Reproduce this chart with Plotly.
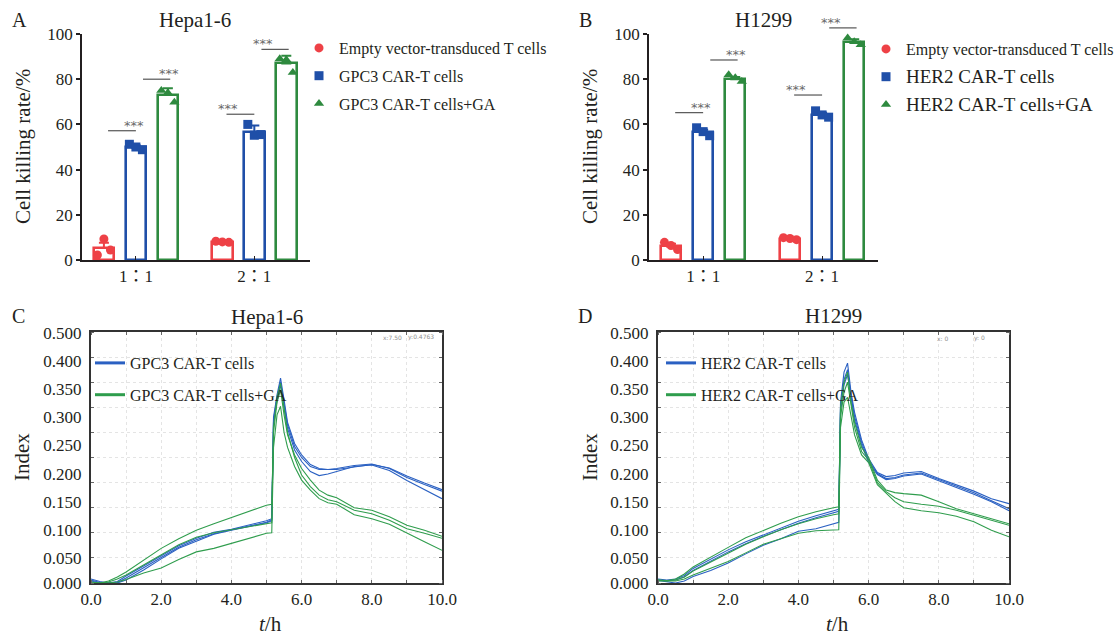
import plotly.graph_objects as go

W, H = 1116, 636
FONT = "Liberation Serif"
INK = "#231f20"
RED, BLUE, GREEN = "#ee4146", "#1f4fa8", "#2e8a3f"
LBLUE, LGREEN = "#2a60c2", "#2f9d4d"

# ---------------- Panels A / B: bar data ----------------
CATS = ["1：1", "2：1"]
A_NAMES = ["Empty vector-transduced T cells", "GPC3 CAR-T cells", "GPC3 CAR-T cells+GA"]
B_NAMES = ["Empty vector-transduced T cells", "HER2 CAR-T cells", "HER2 CAR-T cells+GA"]

A_empty_mean = [5.3, 8.0]
A_gpc3_mean = [49.8, 56.6]
A_ga_mean = [73.0, 87.0]
A_empty_err = [2.3, 0.3]
A_gpc3_err = [0.9, 2.9]
A_ga_err = [3.0, 3.4]
A_empty_pts = [[2.2, 9.3, 4.4], [8.3, 8.0, 7.8]]
A_gpc3_pts = [[51.2, 50.0, 48.8], [60.0, 55.2, 55.5]]
A_ga_pts = [[75.0, 74.0, 69.8], [89.0, 88.6, 83.0]]
A_sig = [[57.2, 80.0], [64.5, 93.2]]

B_empty_mean = [6.0, 9.3]
B_her2_mean = [56.6, 64.2]
B_ga_mean = [80.0, 96.5]
B_empty_err = [1.2, 0.4]
B_her2_err = [1.0, 1.0]
B_ga_err = [1.0, 1.2]
B_empty_pts = [[7.8, 6.4, 4.6], [9.9, 9.5, 9.0]]
B_her2_pts = [[58.5, 56.8, 55.0], [66.0, 64.2, 63.2]]
B_ga_pts = [[82.0, 80.6, 79.0], [98.2, 96.6, 95.2]]
B_sig = [[65.2, 88.5], [73.0, 102.7]]

# ---------------- Panels C / D: real-time index curves ----------------
T = [0, 0.25, 0.5, 0.75, 1.0, 1.5, 2.0, 2.5, 3.0, 3.5, 4.0, 4.5, 5.0, 5.15, 5.2,
     5.3, 5.4, 5.5, 5.6, 5.8, 6.0, 6.25, 6.5, 6.75, 7.0, 7.5, 8.0, 8.5, 9.0, 9.5, 10.0]

C_blue_1 = [0.008, 0.003, 0.000, 0.003, 0.014, 0.034, 0.054, 0.074, 0.089, 0.101, 0.107, 0.115, 0.124, 0.128, 0.330,
            0.375, 0.408, 0.365, 0.320, 0.278, 0.255, 0.236, 0.228, 0.226, 0.226, 0.231, 0.236, 0.229, 0.213, 0.199, 0.186]
C_blue_2 = [0.006, 0.001, 0.000, 0.001, 0.010, 0.030, 0.050, 0.071, 0.086, 0.098, 0.106, 0.113, 0.121, 0.126, 0.325,
            0.370, 0.400, 0.358, 0.315, 0.272, 0.250, 0.232, 0.226, 0.226, 0.228, 0.234, 0.237, 0.228, 0.210, 0.196, 0.183]
C_blue_3 = [0.004, 0.000, 0.000, 0.000, 0.006, 0.026, 0.048, 0.069, 0.083, 0.097, 0.105, 0.112, 0.120, 0.124, 0.320,
            0.362, 0.395, 0.350, 0.308, 0.265, 0.242, 0.222, 0.214, 0.217, 0.222, 0.232, 0.235, 0.224, 0.204, 0.186, 0.168]
C_green_1 = [0.000, 0.000, 0.004, 0.012, 0.022, 0.046, 0.069, 0.088, 0.105, 0.118, 0.130, 0.142, 0.155, 0.157, 0.300,
             0.360, 0.385, 0.335, 0.295, 0.255, 0.228, 0.205, 0.185, 0.175, 0.170, 0.150, 0.145, 0.132, 0.115, 0.105, 0.093]
C_green_2 = [0.002, 0.000, 0.002, 0.008, 0.016, 0.036, 0.056, 0.076, 0.091, 0.100, 0.106, 0.112, 0.118, 0.120, 0.310,
             0.370, 0.398, 0.345, 0.300, 0.250, 0.215, 0.192, 0.175, 0.166, 0.162, 0.145, 0.138, 0.125, 0.108, 0.099, 0.089]
C_green_3 = [0.000, 0.000, 0.000, 0.002, 0.007, 0.020, 0.030, 0.047, 0.062, 0.069, 0.079, 0.090, 0.099, 0.100, 0.270,
             0.335, 0.352, 0.300, 0.270, 0.232, 0.205, 0.185, 0.168, 0.160, 0.157, 0.136, 0.128, 0.117, 0.099, 0.082, 0.065]

D_blue_1 = [0.008, 0.006, 0.008, 0.015, 0.029, 0.048, 0.066, 0.082, 0.096, 0.110, 0.123, 0.134, 0.144, 0.147, 0.360,
            0.420, 0.438, 0.380, 0.340, 0.285, 0.248, 0.220, 0.212, 0.214, 0.219, 0.222, 0.208, 0.196, 0.183, 0.168, 0.158]
D_blue_2 = [0.006, 0.004, 0.006, 0.012, 0.025, 0.044, 0.062, 0.078, 0.093, 0.106, 0.119, 0.130, 0.140, 0.143, 0.350,
            0.405, 0.425, 0.372, 0.332, 0.280, 0.244, 0.218, 0.208, 0.210, 0.215, 0.219, 0.206, 0.193, 0.180, 0.164, 0.148]
D_blue_3 = [0.005, 0.002, 0.000, 0.004, 0.013, 0.025, 0.040, 0.058, 0.075, 0.088, 0.103, 0.108, 0.118, 0.121, 0.340,
            0.395, 0.415, 0.365, 0.325, 0.275, 0.240, 0.216, 0.206, 0.208, 0.213, 0.217, 0.204, 0.190, 0.177, 0.162, 0.144]
D_green_1 = [0.004, 0.004, 0.008, 0.018, 0.032, 0.052, 0.071, 0.090, 0.105, 0.119, 0.132, 0.142, 0.150, 0.152, 0.350,
             0.400, 0.420, 0.360, 0.320, 0.270, 0.250, 0.205, 0.185, 0.180, 0.178, 0.175, 0.162, 0.148, 0.138, 0.128, 0.118]
D_green_2 = [0.006, 0.005, 0.006, 0.012, 0.024, 0.042, 0.060, 0.077, 0.092, 0.106, 0.118, 0.128, 0.136, 0.138, 0.330,
             0.380, 0.400, 0.350, 0.310, 0.262, 0.245, 0.200, 0.182, 0.170, 0.162, 0.157, 0.153, 0.145, 0.135, 0.125, 0.115]
D_green_3 = [0.006, 0.004, 0.004, 0.008, 0.016, 0.030, 0.043, 0.060, 0.077, 0.088, 0.099, 0.104, 0.106, 0.106, 0.310,
             0.360, 0.370, 0.330, 0.295, 0.255, 0.240, 0.196, 0.180, 0.162, 0.150, 0.144, 0.140, 0.133, 0.122, 0.105, 0.092]

C_NAMES = ["GPC3 CAR-T cells", "GPC3 CAR-T cells+GA"]
D_NAMES = ["HER2 CAR-T cells", "HER2 CAR-T cells+GA"]

# y tick labels of C/D as printed in the source figure (label text and where each sits on the grid scale)
YLAB_TEXT = ["0.000", "0.050", "0.100", "0.150", "0.200", "0.250", "0.300", "0.350", "0.400", "0.500"]
YLAB_POS = [0.0, 0.0505, 0.106, 0.162, 0.218, 0.274, 0.330, 0.386, 0.442, 0.498]
XTICKS = [0, 2, 4, 6, 8, 10]

# ---------------- style / layout constants ----------------
RNG_AB = [-0.455, 1.47]
OFFS = [-0.27, 0.0, 0.27]
BAR_W = 0.172
JIT = [-0.055, 0.0, 0.055]
SIG_SPAN = [(-0.235, 0.0), (0.06, 0.29)]
SYMS = ["circle", "square", "triangle-up"]
COLS = [RED, BLUE, GREEN]

fig = go.Figure()


def px(x):
    return x / W


def py(y):
    return 1 - y / H


def add_bars(xa, ya, leg, names, means, errs, pts, name_style=None):
    for k in range(3):
        xs = [i + OFFS[k] for i in range(len(CATS))]
        fig.add_trace(go.Bar(
            x=xs, y=means[k], width=BAR_W, xaxis=xa, yaxis=ya, showlegend=False,
            marker=dict(color="white", line=dict(color=COLS[k], width=2.6)),
            error_y=dict(type="data", array=errs[k], arrayminus=[0] * len(CATS), symmetric=False,
                         color=COLS[k], thickness=2, width=5),
            hoverinfo="skip"))
    for k in range(3):
        xs, ys = [], []
        for i in range(len(CATS)):
            for j, v in enumerate(pts[k][i]):
                xs.append(i + OFFS[k] + JIT[j])
                ys.append(v)
        nm = names[k]
        if name_style is not None and name_style[k]:
            nm = '<span style="font-size:%dpx">%s</span>' % (name_style[k], nm)
        fig.add_trace(go.Scatter(
            x=xs, y=ys, mode="markers", xaxis=xa, yaxis=ya, cliponaxis=False,
            marker=dict(symbol=SYMS[k], size=9, color=COLS[k], line=dict(width=0)),
            name=nm, legend=leg, legendgroup=leg + str(k)))


add_bars("x", "y", "legend", A_NAMES,
         [A_empty_mean, A_gpc3_mean, A_ga_mean], [A_empty_err, A_gpc3_err, A_ga_err],
         [A_empty_pts, A_gpc3_pts, A_ga_pts])
add_bars("x2", "y2", "legend2", B_NAMES,
         [B_empty_mean, B_her2_mean, B_ga_mean], [B_empty_err, B_her2_err, B_ga_err],
         [B_empty_pts, B_her2_pts, B_ga_pts], name_style=[None, 19, 19])

shapes, anns = [], []


def add_sig(xa, ya, sig):
    for i in range(len(CATS)):
        for s, (a, b) in enumerate(SIG_SPAN):
            x0 = (i + a - RNG_AB[0]) / (RNG_AB[1] - RNG_AB[0])
            x1 = (i + b - RNG_AB[0]) / (RNG_AB[1] - RNG_AB[0])
            yv = sig[i][s] / 100.0
            shapes.append(dict(type="line", xref=xa + " domain", yref=ya + " domain",
                               x0=x0, x1=x1, y0=yv, y1=yv, line=dict(color="#555", width=1.2)))
            anns.append(dict(xref=xa + " domain", yref=ya + " domain", x=(x0 + x1) / 2, y=yv,
                             text="***", showarrow=False, yanchor="bottom", yshift=-4,
                             font=dict(family="DejaVu Sans", size=13, color="#6a6a6a")))


add_sig("x", "y", A_sig)
add_sig("x2", "y2", B_sig)


def add_lines(xa, ya, leg, names, blues, greens):
    for grp, col in ((blues, LBLUE), (greens, LGREEN)):
        for ys in grp:
            fig.add_trace(go.Scatter(x=T, y=ys, mode="lines", xaxis=xa, yaxis=ya, showlegend=False,
                                     line=dict(color=col, width=1.1), hoverinfo="skip"))
    for k, col in enumerate((LBLUE, LGREEN)):
        fig.add_trace(go.Scatter(x=[None], y=[None], mode="lines", xaxis=xa, yaxis=ya,
                                 line=dict(color=col, width=3), name=names[k],
                                 legend=leg, legendgroup=leg + str(k)))


add_lines("x3", "y3", "legend3", C_NAMES, [C_blue_1, C_blue_2, C_blue_3], [C_green_1, C_green_2, C_green_3])
add_lines("x4", "y4", "legend4", D_NAMES, [D_blue_1, D_blue_2, D_blue_3], [D_green_1, D_green_2, D_green_3])


def ann(text, x, y, size=21, angle=0, color=INK, family=FONT):
    anns.append(dict(text=text, x=px(x), y=py(y), xref="paper", yref="paper", showarrow=False,
                     xanchor="center", yanchor="middle", textangle=angle,
                     font=dict(family=family, size=size, color=color)))


ann("A", 19, 20, size=20)
ann("B", 585, 20, size=20)
ann("C", 18, 316, size=20)
ann("D", 585, 316, size=20)
ann("Hepa1-6", 195, 20)
ann("H1299", 763, 20)
ann("Hepa1-6", 267, 317)
ann("H1299", 833, 316)
ann("Cell killing rate/%", 23, 147, angle=-90)
ann("Cell killing rate/%", 590, 147, angle=-90)
ann("Index", 22, 457, angle=-90)
ann("Index", 590, 457, angle=-90)
ann("<i>t</i>/h", 270, 624)
ann("<i>t</i>/h", 837, 624)
ann("x:7.50", 392, 337, size=6, color="#8f8f8f", family="DejaVu Sans")
ann("y:0.4763", 421, 337, size=6, color="#8f8f8f", family="DejaVu Sans")
ann("x: 0", 942, 338, size=6, color="#8f8f8f", family="DejaVu Sans")
ann("y: 0", 979, 338, size=6, color="#8f8f8f", family="DejaVu Sans")

tickfont = dict(family=FONT, size=17, color=INK)


def bar_x(dom):
    return dict(domain=dom, range=RNG_AB, tickvals=[0, 1], ticktext=CATS, ticks="inside", ticklen=4,
                tickwidth=1.3, tickcolor=INK, showline=True, linecolor=INK, linewidth=1.6,
                showgrid=False, zeroline=False, automargin=False,
                tickfont=dict(family="Liberation Serif, Noto Sans CJK TC", size=17, color=INK),
                fixedrange=True)


def bar_y(dom):
    return dict(domain=dom, range=[0, 100], tickvals=[0, 20, 40, 60, 80, 100], ticks="outside", ticklen=4,
                tickwidth=1.5, tickcolor=INK, showline=True, linecolor=INK, linewidth=1.6,
                showgrid=False, zeroline=False, automargin=False, tickfont=tickfont, fixedrange=True)


GRID = dict(showgrid=True, gridcolor="#e4e4e4", griddash="dot", gridwidth=1)


def line_x(dom, anchor):
    return dict(domain=dom, anchor=anchor, range=[0, 10], tickvals=XTICKS, tickformat=".1f", ticks="",
                showline=True, mirror="ticks", linecolor="#333", linewidth=2, zeroline=False,
                automargin=False, tickfont=tickfont, fixedrange=True, **GRID,
                minor=dict(dtick=1, ticks="inside", ticklen=3, tickcolor="#666", **GRID))


def line_y(dom, anchor):
    return dict(domain=dom, anchor=anchor, range=[0, 0.5], tickvals=YLAB_POS, ticktext=YLAB_TEXT, ticks="",
                showline=True, mirror="ticks", linecolor="#333", linewidth=2, zeroline=False, showgrid=False,
                automargin=False, tickfont=tickfont, ticklabelstandoff=4, fixedrange=True,
                minor=dict(tickmode="linear", tick0=0, dtick=0.05, ticks="inside", ticklen=3,
                           tickcolor="#666", **GRID))


ydom_top = [py(260), py(34)]
ydom_bot = [py(583), py(332)]

legend_common = dict(bgcolor="rgba(0,0,0,0)", borderwidth=0, xanchor="left", yanchor="top",
                     itemclick=False, itemdoubleclick=False)

fig.update_layout(
    width=W, height=H, margin=dict(l=0, r=0, t=0, b=0, autoexpand=False),
    paper_bgcolor="white", plot_bgcolor="white",
    font=dict(family=FONT, color=INK),
    bargap=0, barmode="overlay", hovermode=False,
    xaxis=dict(anchor="y", **bar_x([px(82), px(310)])),
    yaxis=dict(anchor="x", **bar_y(ydom_top)),
    xaxis2=dict(anchor="y2", **bar_x([px(649), px(878)])),
    yaxis2=dict(anchor="x2", **bar_y(ydom_top)),
    xaxis3=line_x([px(91), px(442)], "y3"),
    yaxis3=line_y(ydom_bot, "x3"),
    xaxis4=line_x([px(658), px(1009)], "y4"),
    yaxis4=line_y(ydom_bot, "x4"),
    legend=dict(x=px(299), y=py(31), font=dict(family=FONT, size=16, color=INK),
                tracegroupgap=4, **legend_common),
    legend2=dict(x=px(866), y=py(32), font=dict(family=FONT, size=16, color=INK),
                 tracegroupgap=4, **legend_common),
    legend3=dict(x=px(90), y=py(346), font=dict(family=FONT, size=16, color=INK),
                 tracegroupgap=8, **legend_common),
    legend4=dict(x=px(661), y=py(346), font=dict(family=FONT, size=16, color=INK),
                 tracegroupgap=8, **legend_common),
    shapes=shapes, annotations=anns,
    showlegend=True,
)

fig.write_html("out.html", config={"displayModeBar": False, "staticPlot": False},
               post_script="document.body.style.margin='0';document.body.style.padding='0';")
